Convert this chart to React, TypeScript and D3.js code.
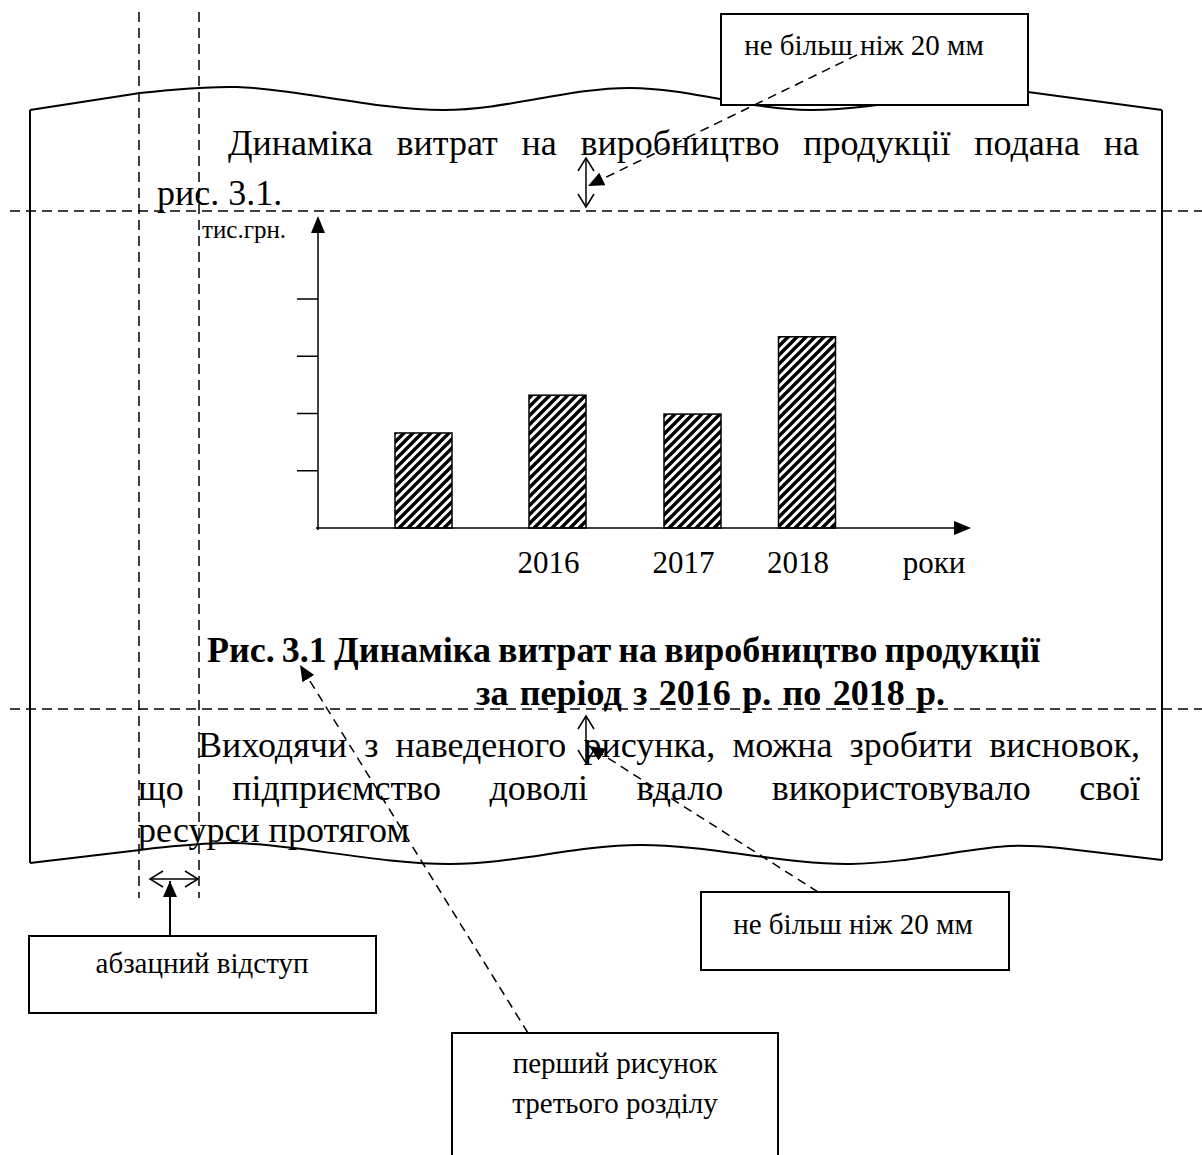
import React from 'react';
import * as d3 from 'd3';

// ---------- data ----------
const years = ['2015', '2016', '2017', '2018'];
const costs = [1.66, 2.32, 1.99, 3.34];
const yTicks = [1, 2, 3, 4];
const yUnit = 'тис.грн.';
const xUnit = 'роки';

const para1Line1 = 'Динаміка витрат на виробництво продукції подана на';
const para1Line2 = 'рис. 3.1.';
const captionLine1 = 'Рис. 3.1 Динаміка витрат на виробництво продукції';
const captionLine2 = 'за період з 2016 р. по 2018 р.';
const para2Line1 = 'Виходячи з наведеного рисунка, можна зробити висновок,';
const para2Line2 = 'що підприємство доволі вдало використовувало свої';
const para2Line3 = 'ресурси протягом';
const noteLimit = 'не більш ніж 20 мм';
const noteIndent = 'абзацний відступ';
const noteFigure = ['перший рисунок', 'третього розділу'];

// ---------- layout ----------
const W = 1202;
const H = 1155;
const SERIF = '"Liberation Serif", "Times New Roman", serif';
const BODY = 36;
const baseY = 528;
const barW = 57;

const y = d3.scaleLinear().domain([0, 4]).range([baseY, 299]);
const x = d3.scaleOrdinal<string, number>().domain(years).range([423.5, 557.5, 692.5, 807]);

let ctx: CanvasRenderingContext2D | null = null;
function measure(text: string, font: string): number {
  if (!ctx) ctx = document.createElement('canvas').getContext('2d');
  if (!ctx) return text.length * 15;
  ctx.font = font;
  return ctx.measureText(text).width;
}

function Justified({ text, x0, x1, yb, size, weight = 'normal' }: { text: string; x0: number; x1: number; yb: number; size: number; weight?: string }) {
  const font = `${weight} ${size}px ${SERIF}`;
  const words = text.split(' ');
  const widths = words.map((w) => measure(w, font));
  const total = widths.reduce((a, b) => a + b, 0);
  const gap = (x1 - x0 - total) / (words.length - 1);
  let cx = x0;
  const items = words.map((w, i) => {
    const r = { w, x: cx };
    cx += widths[i] + gap;
    return r;
  });
  return (
    <g>
      {items.map((it, i) => (
        <text key={i} x={it.x} y={yb} fontFamily={SERIF} fontSize={size} fontWeight={weight}>
          {it.w}
        </text>
      ))}
    </g>
  );
}

const line = d3.line<[number, number]>();
const smooth = d3.line<[number, number]>().curve(d3.curveCatmullRom.alpha(0.5));

function pageTop(): string {
  const pts: [number, number][] = [[140, 93], [237, 87], [444, 110], [630, 88], [810, 110], [1000, 89], [1028, 92]];
  return 'M30,110 L' + smooth(pts)!.slice(1) + ' L1162,110';
}
function pageBottom(): string {
  const pts: [number, number][] = [[140, 850], [233, 843], [450, 864], [640, 845], [850, 864], [1010, 846], [1060, 848]];
  return 'M30,863 L' + smooth(pts)!.slice(1) + ' L1162,860';
}

function OpenHead({ tx, ty, dir }: { tx: number; ty: number; dir: 'up' | 'down' | 'left' | 'right' }) {
  const L = 13, h = 8;
  let d = '';
  if (dir === 'up') d = `M${tx - h},${ty + L} L${tx},${ty} L${tx + h},${ty + L}`;
  if (dir === 'down') d = `M${tx - h},${ty - L} L${tx},${ty} L${tx + h},${ty - L}`;
  if (dir === 'left') d = `M${tx + L},${ty - h} L${tx},${ty} L${tx + L},${ty + h}`;
  if (dir === 'right') d = `M${tx - L},${ty - h} L${tx},${ty} L${tx - L},${ty + h}`;
  return <path d={d} fill="none" stroke="#000" strokeWidth={1.5} />;
}

export default function App() {
  const dash = '10,6';
  const labelSize = 31;
  return (
    <svg width={W} height={H} viewBox={`0 0 ${W} ${H}`} style={{ position: 'absolute', left: 0, top: 0, background: '#fff' }}>
      <defs>
        <pattern id="hatch" patternUnits="userSpaceOnUse" width={9} height={9}>
          <rect width={9} height={9} fill="#fff" />
          <path d="M-2.25,2.25 l4.5,-4.5 M0,9 l9,-9 M6.75,11.25 l4.5,-4.5" stroke="#000" strokeWidth={3.4} />
        </pattern>
        <marker id="tri" markerUnits="userSpaceOnUse" markerWidth={18} markerHeight={16} refX={16} refY={7} orient="auto">
          <path d="M0,0 L16,7 L0,14 z" fill="#000" />
        </marker>
        <clipPath id="cut2015">
          <rect x={451} y={540} width={3.5} height={45} />
        </clipPath>
      </defs>

      {/* page outline */}
      <path d={pageTop()} fill="none" stroke="#000" strokeWidth={2} />
      <path d={pageBottom()} fill="none" stroke="#000" strokeWidth={2} />
      <line x1={30} y1={110} x2={30} y2={863} stroke="#000" strokeWidth={2} />
      <line x1={1162} y1={110} x2={1162} y2={860} stroke="#000" strokeWidth={2} />

      {/* paragraph 1 */}
      <Justified text={para1Line1} x0={228} x1={1139} yb={155} size={BODY} />
      <text x={157} y={205} fontFamily={SERIF} fontSize={BODY}>{para1Line2}</text>

      {/* chart */}
      <text x={202} y={238} fontFamily={SERIF} fontSize={25}>{yUnit}</text>
      {years.map((yr, i) => (
        <rect key={yr} x={x(yr) - barW / 2} y={y(costs[i])} width={barW} height={baseY - y(costs[i])} fill="url(#hatch)" stroke="#000" strokeWidth={1.5} />
      ))}
      {yTicks.map((t) => (
        <line key={t} x1={297} x2={318} y1={y(t)} y2={y(t)} stroke="#000" strokeWidth={1.5} />
      ))}
      <line x1={318} y1={baseY + 2} x2={318} y2={218} stroke="#000" strokeWidth={1.5} />
      <path d="M318,216 L311,233 L325,233 z" fill="#000" />
      <line x1={316} y1={baseY} x2={958} y2={baseY} stroke="#000" strokeWidth={1.5} />
      <path d="M971,528 L954,521 L954,535 z" fill="#000" />
      {years.map((yr, i) => (
        <text key={yr} x={x(yr) - 9} y={573} textAnchor="middle" fontFamily={SERIF} fontSize={labelSize} clipPath={i === 0 ? 'url(#cut2015)' : undefined}>
          {yr}
        </text>
      ))}
      <text x={934} y={573} textAnchor="middle" fontFamily={SERIF} fontSize={labelSize}>{xUnit}</text>

      {/* caption */}
      <Justified text={captionLine1} x0={207} x1={1040} yb={662} size={BODY} weight="bold" />
      <Justified text={captionLine2} x0={476} x1={945} yb={705} size={BODY} weight="bold" />

      {/* paragraph 2 */}
      <Justified text={para2Line1} x0={198} x1={1140} yb={757} size={BODY} />
      <Justified text={para2Line2} x0={138} x1={1140} yb={800} size={BODY} />
      <text x={138} y={842} fontFamily={SERIF} fontSize={BODY}>{para2Line3}</text>

      {/* guide lines */}
      <line x1={139} y1={12} x2={139} y2={898} stroke="#000" strokeWidth={1.5} strokeDasharray={dash} />
      <line x1={199} y1={12} x2={199} y2={898} stroke="#000" strokeWidth={1.5} strokeDasharray={dash} />
      <line x1={10} y1={211} x2={W} y2={211} stroke="#000" strokeWidth={1.5} strokeDasharray={dash} />
      <line x1={10} y1={709} x2={W} y2={709} stroke="#000" strokeWidth={1.5} strokeDasharray={dash} />

      {/* note boxes */}
      <rect x={721} y={14} width={307} height={91} fill="#fff" stroke="#000" strokeWidth={2} />
      <text x={864} y={55} textAnchor="middle" fontFamily={SERIF} fontSize={29}>{noteLimit}</text>

      <rect x={701} y={892} width={308} height={78} fill="#fff" stroke="#000" strokeWidth={2} />
      <text x={853} y={934} textAnchor="middle" fontFamily={SERIF} fontSize={29}>{noteLimit}</text>

      <rect x={29} y={936} width={347} height={77} fill="#fff" stroke="#000" strokeWidth={2} />
      <text x={202} y={973} textAnchor="middle" fontFamily={SERIF} fontSize={29}>{noteIndent}</text>

      <rect x={452} y={1033} width={326} height={140} fill="#fff" stroke="#000" strokeWidth={2} />
      {noteFigure.map((t, i) => (
        <text key={t} x={615} y={1073 + i * 40} textAnchor="middle" fontFamily={SERIF} fontSize={29}>{t}</text>
      ))}

      {/* double arrows */}
      <line x1={586} y1={158} x2={586} y2={207} stroke="#000" strokeWidth={1.5} />
      <OpenHead tx={586} ty={158} dir="up" />
      <OpenHead tx={586} ty={207} dir="down" />

      <line x1={586} y1={716} x2={586} y2={763} stroke="#000" strokeWidth={1.5} />
      <OpenHead tx={586} ty={716} dir="up" />
      <OpenHead tx={586} ty={763} dir="down" />

      <line x1={150} y1={879} x2={198} y2={879} stroke="#000" strokeWidth={1.5} />
      <OpenHead tx={150} ty={879} dir="left" />
      <OpenHead tx={198} ty={879} dir="right" />

      {/* pointer arrows */}
      <path d={line([[857, 55], [588, 186]])!} fill="none" stroke="#000" strokeWidth={1.5} strokeDasharray="9,6" markerEnd="url(#tri)" />
      <path d={line([[818, 892], [589, 746]])!} fill="none" stroke="#000" strokeWidth={1.5} strokeDasharray="9,6" markerEnd="url(#tri)" />
      <path d={line([[528, 1033], [300, 665]])!} fill="none" stroke="#000" strokeWidth={1.5} strokeDasharray="9,6" markerEnd="url(#tri)" />
      <path d={line([[170, 936], [170, 881]])!} fill="none" stroke="#000" strokeWidth={2} markerEnd="url(#tri)" />
    </svg>
  );
}
